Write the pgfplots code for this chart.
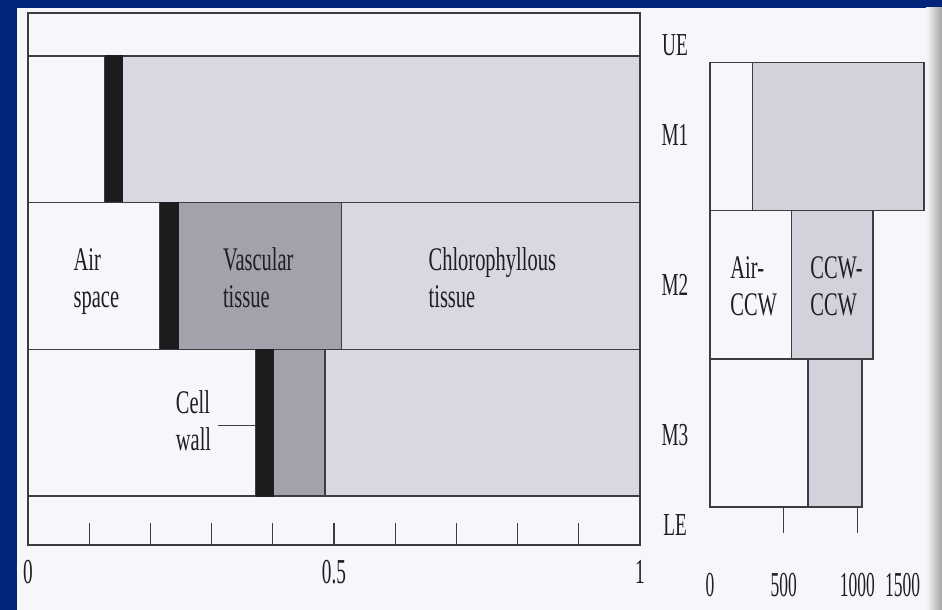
\documentclass[border=0pt]{standalone}
\usepackage{pgfplots}
\pgfplotsset{compat=1.18}
\usepackage{pgfplotstable}
\usepackage{fontspec}
\setmainfont{Liberation Serif}
\usepackage{graphicx}
\definecolor{slideblue}{RGB}{0,37,122}
\definecolor{paper}{RGB}{247,247,251}
\definecolor{wallc}{RGB}{28,28,30}
\definecolor{vasc}{RGB}{162,162,172}
\definecolor{chloro}{RGB}{216,216,226}
\definecolor{ccw}{RGB}{210,210,220}
\definecolor{edge}{RGB}{60,60,65}
\definecolor{txt}{RGB}{30,30,35}
\newcommand{\sx}[2][0.62]{\scalebox{#1}[1]{#2}}
\newcommand{\lblL}[1]{\sx{\begin{tabular}{@{}l@{}}#1\end{tabular}}}
\tikzset{lab/.style={font={\fontsize{16.5}{18.5}\selectfont}, text=txt, inner sep=0pt}}

% leaf profile: fractions of leaf thickness (row 0 = M3, 1 = M2, 2 = M1)
\pgfplotstableread{
row air wall vasc chloro
0 0.372 0.028 0.085 0.515
1 0.215 0.031 0.266 0.488
2 0.125 0.029 0.000 0.846
}\leaf
% conductance profile (row 0 = M3, 1 = M2, 2 = M1)
\pgfplotstableread{
row air ccw
0 665 367
1 555 550
2 290 1163
}\cond

\begin{document}
\begin{tikzpicture}
\fill[slideblue] (0,0) rectangle (471pt,305pt);
\fill[paper] (8.5pt,0) rectangle (471pt,301pt);
\shade[left color=paper, right color=black!35] (463pt,0) rectangle (471pt,301pt);

\begin{axis}[
  at={(14pt,32.5pt)}, anchor=south west, scale only axis,
  width=306pt, height=266pt,
  xmin=0, xmax=1, ymin=-0.834, ymax=2.793,
  xbar stacked, bar width=1,
  axis line style={draw=edge, line width=0.7pt},
  xtick={0,0.1,0.2,0.3,0.4,0.5,0.6,0.7,0.8,0.9,1},
  xticklabels={\sx[0.55]{0},,,,,\sx[0.55]{0.5},,,,,\sx[0.55]{1}},
  xtick pos=bottom, tick align=inside, major tick length=11pt,
  x tick style={draw=edge, line width=0.6pt},
  xticklabel style={anchor=center, yshift=-13.5pt, font={\fontsize{17.5}{17.5}\selectfont}, text=txt},
  ytick={-0.698,-0.084,0.94,1.96,2.575},
  yticklabels={\sx[0.6]{LE},\sx[0.6]{M3},\sx[0.6]{M2},\sx[0.6]{M1},\sx[0.6]{UE}},
  yticklabel pos=right, y tick style={draw=none},
  yticklabel style={anchor=center, xshift=17.5pt, font={\fontsize{16}{16}\selectfont}, text=txt},
  clip=false,
  after end axis/.code={
    \node[lab, anchor=west] at (axis cs:0.074,0.96) {\lblL{Air\\space}};
    \node[lab, anchor=west] at (axis cs:0.318,0.96) {\lblL{Vascular\\tissue}};
    \node[lab, anchor=west] at (axis cs:0.654,0.96) {\lblL{Chlorophyllous\\tissue}};
    \node[lab, anchor=west] at (axis cs:0.241,-0.015) {\lblL{Cell\\wall}};
    \draw[edge, line width=0.6pt] (axis cs:0.31,-0.018) -- (axis cs:0.372,-0.018);
  },
]
\addplot[fill=paper, draw=edge, line width=0.7pt] table[x=air, y=row]{\leaf};
\addplot[fill=wallc, draw=wallc, line width=0.7pt] table[x=wall, y=row]{\leaf};
\addplot[fill=vasc, draw=edge, line width=0.7pt] table[x=vasc, y=row]{\leaf};
\addplot[fill=chloro, draw=edge, line width=0.7pt] table[x=chloro, y=row]{\leaf};
\end{axis}

\begin{axis}[
  at={(355pt,38.5pt)}, anchor=south west, scale only axis,
  width=110.5pt, height=235.2pt,
  xmin=0, xmax=1500, ymin=-0.676, ymax=2.5,
  xbar stacked, bar width=1,
  axis line style={draw=none}, ytick=\empty,
  xtick={500,1000}, xticklabels={\sx[0.5]{500},\sx[0.5]{1000}},
  xtick pos=bottom, tick align=inside, major tick length=13pt,
  x tick style={draw=edge, line width=0.6pt},
  extra x ticks={0,1500},
  extra x tick labels={\sx[0.5]{0},\llap{\sx[0.5]{1500}\hspace{5.5pt}}},
  extra x tick style={major tick length=0pt},
  xticklabel style={anchor=center, yshift=-26pt, font={\fontsize{17.5}{17.5}\selectfont}, text=txt},
  clip=false,
  after end axis/.code={
    \node[lab, anchor=west] at (axis cs:136,0.97) {\lblL{Air-\\CCW}};
    \node[lab, anchor=west] at (axis cs:679,0.97) {\lblL{CCW-\\CCW}};
  },
]
\addplot[fill=paper, draw=edge, line width=0.7pt] table[x=air, y=row]{\cond};
\addplot[fill=ccw, draw=edge, line width=0.7pt] table[x=ccw, y=row]{\cond};
\end{axis}
\end{tikzpicture}
\end{document}
